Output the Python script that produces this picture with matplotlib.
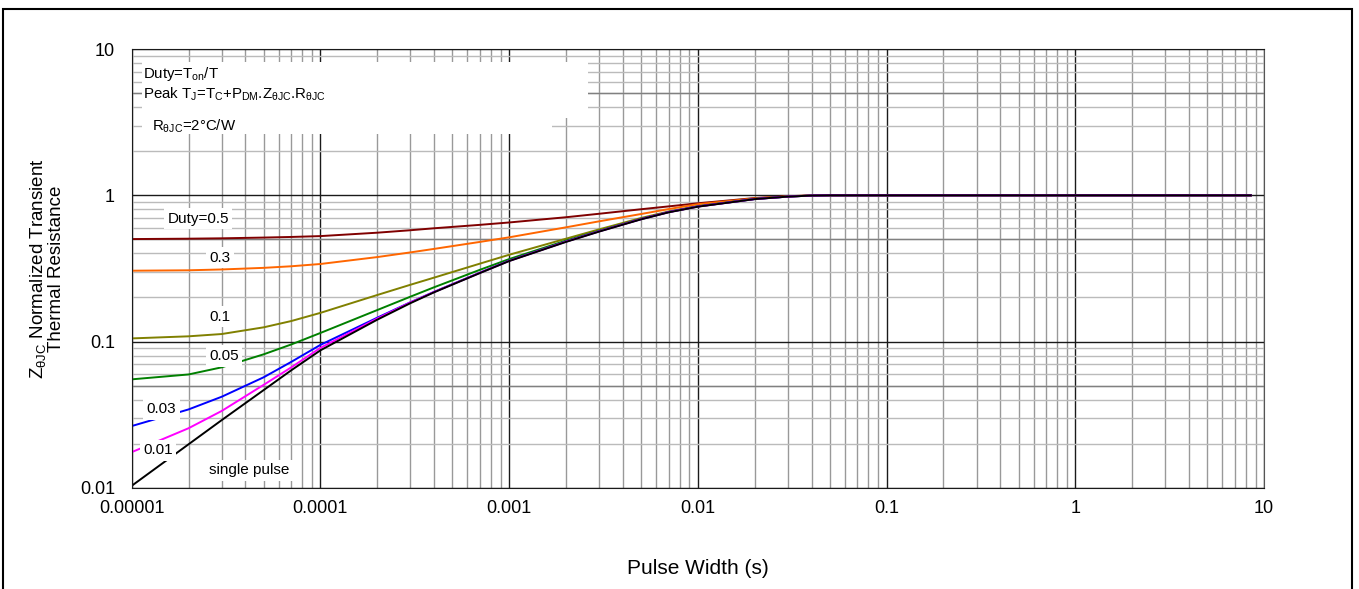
import matplotlib
matplotlib.use("Agg")
import matplotlib.pyplot as plt
from matplotlib.patches import Rectangle

plt.rcParams['font.family'] = ['Liberation Sans', 'DejaVu Sans']
plt.rcParams['mathtext.fontset'] = 'custom'
plt.rcParams['mathtext.rm'] = 'Liberation Sans'
plt.rcParams['mathtext.it'] = 'Liberation Sans:italic'

# pulse width (s)
t = [1e-5, 2e-5, 3e-5, 5e-5, 7e-5, 1e-4, 2e-4, 3e-4, 4e-4, 7e-4, 1e-3,
     2e-3, 3e-3, 5e-3, 7e-3, 1e-2, 2e-2, 3e-2, 4e-2, 5e-2, 0.1, 1, 8.5]

z_d50 = [0.502, 0.505, 0.508, 0.514, 0.519, 0.526, 0.555, 0.577, 0.595, 0.628, 0.652,
         0.708, 0.748, 0.803, 0.84, 0.882, 0.958, 0.986, 0.998, 1.0, 1.0, 1.0, 1.0]
z_d30 = [0.305, 0.307, 0.311, 0.319, 0.327, 0.339, 0.378, 0.407, 0.43, 0.48, 0.516,
         0.604, 0.664, 0.745, 0.805, 0.87, 0.952, 0.983, 0.997, 1.0, 1.0, 1.0, 1.0]
z_d10 = [0.105, 0.1085, 0.1125, 0.125, 0.138, 0.157, 0.208, 0.2445, 0.2735, 0.341, 0.392,
         0.505, 0.585, 0.70, 0.775, 0.845, 0.946, 0.981, 0.996, 1.0, 1.0, 1.0, 1.0]
z_d05 = [0.0551, 0.0595, 0.0666, 0.0817, 0.0954, 0.1144, 0.1641, 0.2027, 0.2349, 0.3094, 0.3663,
         0.490, 0.572, 0.69, 0.769, 0.84, 0.944, 0.98, 0.996, 1.0, 1.0, 1.0, 1.0]
z_d03 = [0.0264, 0.0343, 0.0419, 0.0569, 0.0725, 0.0948, 0.1455, 0.1856, 0.2186, 0.2958, 0.357,
         0.483, 0.568, 0.688, 0.768, 0.839, 0.943, 0.98, 0.996, 1.0, 1.0, 1.0, 1.0]
z_d01 = [0.0175, 0.0255, 0.0335, 0.0505, 0.0665, 0.0905, 0.1435, 0.185, 0.218, 0.295, 0.356,
         0.482, 0.567, 0.687, 0.767, 0.838, 0.943, 0.98, 0.996, 1.0, 1.0, 1.0, 1.0]
z_single = [0.0103, 0.0198, 0.029, 0.0465, 0.0635, 0.087, 0.141, 0.183, 0.217, 0.294, 0.355,
            0.48, 0.565, 0.685, 0.765, 0.836, 0.942, 0.98, 0.996, 1.0, 1.0, 1.0, 1.0]

series = [z_d50, z_d30, z_d10, z_d05, z_d03, z_d01, z_single]
colors = ['#800000', '#ff6600', '#808000', '#008000', '#0000ff', '#ff00ff', '#000000']

# curve labels: text, x, y
labels = ['Duty=0.5', '0.3', '0.1', '0.05', '0.03', '0.01', 'single pulse']
label_x = [2.25e-5, 2.93e-5, 2.93e-5, 3.08e-5, 1.44e-5, 1.38e-5, 4.18e-5]
label_y = [0.689, 0.373, 0.148, 0.0796, 0.0345, 0.0181, 0.0132]

xticks = [1e-5, 1e-4, 1e-3, 1e-2, 1e-1, 1, 10]
xticklabels = ['0.00001', '0.0001', '0.001', '0.01', '0.1', '1', '10']
yticks = [0.01, 0.1, 1, 10]
yticklabels = ['0.01', '0.1', '1', '10']

fig = plt.figure(figsize=(13.59, 5.89), dpi=100)
ax = fig.add_axes([0.0969, 0.172, 0.8333, 0.7446])
ax.set_xscale('log')
ax.set_yscale('log')
ax.set_xlim(1e-5, 10)
ax.set_ylim(0.01, 10)

# grid
ax.grid(which='major', color='#1a1a1a', lw=1.0, zorder=0.5)
ax.grid(which='minor', axis='x', color='#999999', lw=1.0, zorder=0.5)
ax.grid(which='minor', axis='y', color='#bbbbbb', lw=1.0, zorder=0.5)
for dec in [0.01, 0.1, 1]:
    ax.axhline(5 * dec, color='#808080', lw=1.0, zorder=0.55)
ax.set_axisbelow(True)

# white areas behind the notes
ax.add_patch(Rectangle((0.0091, 0.843), 0.394, 0.128, transform=ax.transAxes,
                       facecolor='white', edgecolor='none', zorder=1))
ax.add_patch(Rectangle((0.0091, 0.806), 0.362, 0.06, transform=ax.transAxes,
                       facecolor='white', edgecolor='none', zorder=1))

for z, c in zip(series, colors):
    ax.plot(t, z, color=c, lw=1.4, zorder=2)

for s, lx, ly in zip(labels, label_x, label_y):
    ax.text(lx, ly, s, fontsize=11, ha='center', va='center', zorder=3,
            bbox=dict(facecolor='white', edgecolor='none', pad=2.5))

note_fs = 10.8
ax.text(0.0102, 0.943, r'Duty=T$_{\mathrm{on}}$/T', transform=ax.transAxes,
        fontsize=note_fs, va='center', ha='left', zorder=3)
ax.text(0.0102, 0.897,
        r'Peak T$_{\mathrm{J}}$=T$_{\mathrm{C}}$+P$_{\mathrm{DM}}$.Z$_{\mathrm{θJC}}$.R$_{\mathrm{θJC}}$',
        transform=ax.transAxes, fontsize=note_fs, va='center', ha='left', zorder=3)
ax.text(0.0177, 0.825, r'R$_{\mathrm{θJC}}$=2°C/W', transform=ax.transAxes,
        fontsize=note_fs, va='center', ha='left', zorder=3)

ax.set_xticks(xticks)
ax.set_xticklabels(xticklabels)
ax.set_yticks(yticks)
ax.set_yticklabels(yticklabels)
ax.tick_params(which='both', length=0, labelsize=13)
ax.tick_params(axis='x', pad=9)
ax.tick_params(axis='y', pad=12)

ax.set_xlabel('Pulse Width (s)', fontsize=15)
ax.xaxis.set_label_coords(0.5, -0.163)
ax.set_ylabel('Z$_{\\mathrm{θJC}}$ Normalized Transient\nThermal Resistance', fontsize=13.5,
              linespacing=1.0)
ax.yaxis.set_label_coords(-0.059, 0.5)

for sp in ['left', 'bottom', 'top']:
    ax.spines[sp].set_color('#1a1a1a')
ax.spines['right'].set_color('#555555')

# outer frame of the figure
fig.add_artist(Rectangle((3 / 1359, -0.1), 1349 / 1359, 1.0847, transform=fig.transFigure,
                         fill=False, edgecolor='black', lw=1.5))

fig.savefig('out.png', dpi=100)
